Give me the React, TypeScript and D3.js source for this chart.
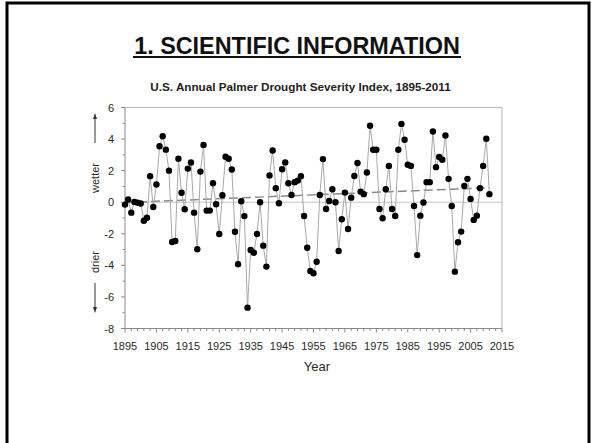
import React from "react";
import * as d3 from "d3";

// Annual Palmer Drought Severity Index, contiguous U.S.
const firstYear = 1895;
const pdsiValues: number[] = [
  -0.15, 0.17, -0.66, 0.02, -0.03, -0.08, -1.17, -0.98, 1.65, -0.3,
  1.12, 3.55, 4.18, 3.33, 2.0, -2.52, -2.46, 2.75, 0.6, -0.45,
  2.13, 2.52, -0.66, -2.98, 1.94, 3.63, -0.53, -0.53, 1.2, -0.13,
  -2.01, 0.44, 2.88, 2.75, 2.07, -1.87, -3.93, 0.06, -0.88, -6.68,
  -3.03, -3.2, -2.01, 0.0, -2.75, -4.08, 1.7, 3.28, 0.89, -0.07,
  2.09, 2.52, 1.2, 0.46, 1.27, 1.37, 1.65, -0.87, -2.88, -4.36,
  -4.5, -3.77, 0.46, 2.73, -0.43, 0.08, 0.82, 0.0, -3.09, -1.08,
  0.61, -1.7, 0.29, 1.66, 2.48, 0.67, 0.51, 1.88, 4.84, 3.32,
  3.32, -0.43, -1.02, 0.82, 2.3, -0.43, -0.87, 3.32, 4.96, 3.96,
  2.37, 2.3, -0.24, -3.35, -0.85, -0.02, 1.27, 1.27, 4.48, 2.22,
  2.86, 2.69, 4.23, 1.48, -0.24, -4.4, -2.54, -1.86, 1.03, 1.48,
  0.21, -1.12, -0.85, 0.89, 2.3, 4.02, 0.51,
];
const years: number[] = pdsiValues.map((_, i) => firstYear + i);

// Long-term linear trend (dashed)
const trendYears: number[] = [1895, 2011];
const trendValues: number[] = [-0.02, 0.92];

const xTickYears: number[] = [1895, 1905, 1915, 1925, 1935, 1945, 1955, 1965, 1975, 1985, 1995, 2005, 2015];
const yTickValues: number[] = [-8, -6, -4, -2, 0, 2, 4, 6];

const W = 592;
const H = 443;
const FONT = "'Liberation Sans', Arial, Helvetica, sans-serif";

export default function App() {
  const x = d3.scaleLinear().domain([1895, 2015]).range([125, 502]);
  const y = d3.scaleLinear().domain([-8, 6]).range([328.5, 107.5]);

  const pts = years.map((yr, i) => ({ yr, v: pdsiValues[i] }));
  const line = d3
    .line<{ yr: number; v: number }>()
    .x((d) => x(d.yr))
    .y((d) => y(d.v));
  const trend = trendYears.map((yr, i) => ({ yr, v: trendValues[i] }));

  const minorX = d3.range(1895, 2016, 2).filter((v) => (v - 1895) % 10 !== 0);
  const minorY = d3.range(-7, 6, 2);

  const [x0, x1] = x.range();
  const [yb, yt] = y.range();

  return (
    <svg
      width={W}
      height={H}
      style={{ position: "absolute", left: 0, top: 0, background: "#fff" }}
      fontFamily={FONT}
    >
      <rect x={0} y={0} width={W} height={H} fill="#fff" />
      {/* slide frame */}
      <rect x={7} y={3} width={582} height={480} fill="none" stroke="#000" strokeWidth={3} />

      {/* slide heading */}
      <text x={297} y={54} textAnchor="middle" fontSize={23.4} fontWeight="bold" fill="#111">
        1. SCIENTIFIC INFORMATION
      </text>
      <line x1={133} x2={461} y1={57} y2={57} stroke="#111" strokeWidth={1.8} />

      {/* chart title */}
      <text x={300.5} y={91} textAnchor="middle" fontSize={11.7} fontWeight="bold" fill="#222">
        U.S. Annual Palmer Drought Severity Index, 1895-2011
      </text>

      {/* plot box */}
      <line x1={x0} x2={x1} y1={yt} y2={yt} stroke="#b5b5b5" strokeWidth={1} />
      <line x1={x1} x2={x1} y1={yt} y2={yb} stroke="#b5b5b5" strokeWidth={1} />
      <line x1={x0} x2={x1} y1={y(0)} y2={y(0)} stroke="#c4c4c4" strokeWidth={1} />

      {/* y axis */}
      <line x1={x0} x2={x0} y1={yt} y2={yb} stroke="#8a8a8a" strokeWidth={1} />
      {yTickValues.map((v) => (
        <g key={"yt" + v}>
          <line x1={x0 - 4} x2={x0} y1={y(v)} y2={y(v)} stroke="#8a8a8a" />
          <text x={114} y={y(v) + 4} textAnchor="end" fontSize={11} fill="#2a2a2a">
            {v}
          </text>
        </g>
      ))}
      {minorY.map((v) => (
        <line key={"ym" + v} x1={x0 - 2.5} x2={x0} y1={y(v)} y2={y(v)} stroke="#8a8a8a" />
      ))}

      {/* x axis */}
      <line x1={x0} x2={x1} y1={yb} y2={yb} stroke="#8a8a8a" strokeWidth={1} />
      {xTickYears.map((v) => (
        <g key={"xt" + v}>
          <line x1={x(v)} x2={x(v)} y1={yb} y2={yb + 4} stroke="#8a8a8a" />
          <text x={x(v)} y={350} textAnchor="middle" fontSize={11} fill="#2a2a2a">
            {v}
          </text>
        </g>
      ))}
      {minorX.map((v) => (
        <line key={"xm" + v} x1={x(v)} x2={x(v)} y1={yb} y2={yb + 2.5} stroke="#8a8a8a" />
      ))}
      <text x={317} y={371} textAnchor="middle" fontSize={13} fill="#2a2a2a">
        Year
      </text>

      {/* wetter / drier annotations */}
      <text
        transform={`translate(99,178) rotate(-90)`}
        textAnchor="middle"
        fontSize={11}
        fill="#2a2a2a"
      >
        wetter
      </text>
      <line x1={95} x2={95} y1={117} y2={143} stroke="#333" strokeWidth={1} />
      <path d="M95,113 L93,119 L97,119 Z" fill="#333" />
      <text
        transform={`translate(99,262) rotate(-90)`}
        textAnchor="middle"
        fontSize={11}
        fill="#2a2a2a"
      >
        drier
      </text>
      <line x1={95} x2={95} y1={283} y2={309} stroke="#333" strokeWidth={1} />
      <path d="M95,313 L93,307 L97,307 Z" fill="#333" />

      {/* trend */}
      <path
        d={line(trend) || ""}
        fill="none"
        stroke="#8a8a8a"
        strokeWidth={1.5}
        strokeDasharray="9,4"
      />

      {/* series */}
      <path d={line(pts) || ""} fill="none" stroke="#a8a8a8" strokeWidth={1} />
      {pts.map((d) => (
        <circle key={d.yr} cx={x(d.yr)} cy={y(d.v)} r={3.2} fill="#000" />
      ))}
    </svg>
  );
}
